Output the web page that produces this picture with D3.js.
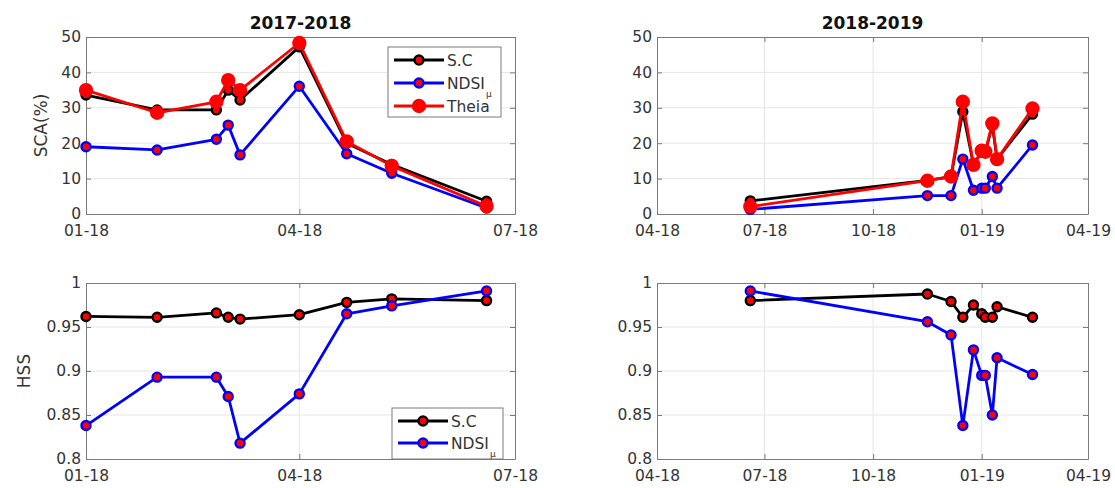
<!DOCTYPE html>
<html>
<head>
<meta charset="utf-8">
<script src="https://cdn.jsdelivr.net/npm/d3@7"></script>
<style>
  body { margin: 0; background: #fff; }
  svg { font-family: "DejaVu Sans", sans-serif; }
</style>
</head>
<body>
<svg id="chart" width="1115" height="488"></svg>
<script>
// ===== DATA =====
const dates1718 = ['2018-01-01', '2018-01-31', '2018-02-25', '2018-03-02', '2018-03-07',
    '2018-04-01', '2018-04-21', '2018-05-10', '2018-06-19'];
const dates1819 = ['2018-06-19', '2018-11-16', '2018-12-06', '2018-12-16', '2018-12-25',
    '2019-01-01', '2019-01-04', '2019-01-10', '2019-01-14', '2019-02-13'];

const sca1718SC    = [33.6, 29.4, 29.4, 35.0, 32.2, 47.2, 20.0, 14.0, 3.6];
const sca1718NDSI  = [19.0, 18.1, 21.1, 25.1, 16.7, 36.1, 17.0, 11.5, 1.7];
const sca1718Theia = [35.0, 28.6, 31.7, 37.8, 35.0, 48.3, 20.5, 13.6, 2.2];

const sca1819SC    = [3.7, 9.5, 10.5, 28.9, 14.0, 17.5, 17.5, 25.0, 15.5, 28.2];
const sca1819NDSI  = [1.3, 5.2, 5.2, 15.5, 6.7, 7.3, 7.3, 10.6, 7.3, 19.5];
const sca1819Theia = [2.1, 9.4, 10.6, 31.7, 13.9, 17.9, 17.6, 25.6, 15.5, 29.8];

const hss1718SC   = [0.962, 0.961, 0.966, 0.961, 0.959, 0.964, 0.978, 0.982, 0.980];
const hss1718NDSI = [0.838, 0.893, 0.893, 0.871, 0.818, 0.874, 0.965, 0.974, 0.991];
const hss1819SC   = [0.980, 0.9875, 0.979, 0.961, 0.975, 0.965, 0.961, 0.961, 0.973, 0.961];
const hss1819NDSI = [0.991, 0.956, 0.941, 0.838, 0.924, 0.895, 0.895, 0.850, 0.915, 0.896];

const xTicks1718 = ['2018-01-01', '2018-04-01', '2018-07-01'];
const xTicks1819 = ['2018-04-01', '2018-07-01', '2018-10-01', '2019-01-01', '2019-04-01'];
const scaTicks = [0, 10, 20, 30, 40, 50];
const hssTicks = [0.8, 0.85, 0.9, 0.95, 1];

// ===== STYLES =====
const styles = {
    sc:    { line: '#000000', mEdge: '#000000', mFill: '#ff0000', r: 4.5 },
    ndsi:  { line: '#0000ff', mEdge: '#0000ff', mFill: '#ff0000', r: 4.5 },
    theia: { line: '#ff0000', mEdge: '#ff0000', mFill: '#ff0000', r: 6 }
};

const parse = d3.timeParse('%Y-%m-%d');
const fmt = d3.timeFormat('%m-%y');
const svg = d3.select('#chart');

function drawPanel(p) {
    const x = d3.scaleTime()
        .domain([parse(p.xTicks[0]), parse(p.xTicks[p.xTicks.length - 1])])
        .range([p.left, p.right]);
    const y = d3.scaleLinear()
        .domain([p.yTicks[0], p.yTicks[p.yTicks.length - 1]])
        .range([p.bottom, p.top]);
    const xt = p.xTicks.map(parse);

    const g = svg.append('g');

    // grid
    g.selectAll('.hg').data(p.yTicks.slice(1, -1)).enter().append('line')
        .attr('x1', p.left).attr('x2', p.right)
        .attr('y1', d => y(d)).attr('y2', d => y(d))
        .attr('stroke', '#e6e6e6').attr('stroke-width', 1);
    g.selectAll('.vg').data(xt.slice(1, -1)).enter().append('line')
        .attr('x1', d => x(d)).attr('x2', d => x(d))
        .attr('y1', p.top).attr('y2', p.bottom)
        .attr('stroke', '#e6e6e6').attr('stroke-width', 1);

    // axes
    const styleAxis = sel => {
        sel.selectAll('.domain').attr('stroke', '#7a7a7a');
        sel.selectAll('.tick line').attr('stroke', '#7a7a7a');
        sel.selectAll('.tick text').attr('fill', '#333').style('font-size', '15.5px')
            .style('font-family', '"DejaVu Sans", sans-serif');
    };
    g.append('g').attr('transform', `translate(0,${p.bottom})`)
        .call(d3.axisBottom(x).tickValues(xt).tickFormat(fmt).tickSizeInner(-5).tickSizeOuter(0).tickPadding(11))
        .call(styleAxis);
    g.append('g').attr('transform', `translate(0,${p.top})`)
        .call(d3.axisTop(x).tickValues(xt).tickFormat('').tickSizeInner(-5).tickSizeOuter(0))
        .call(styleAxis);
    g.append('g').attr('transform', `translate(${p.left},0)`)
        .call(d3.axisLeft(y).tickValues(p.yTicks).tickFormat(d3.format('')).tickSizeInner(-5).tickSizeOuter(0).tickPadding(5))
        .call(styleAxis);
    g.append('g').attr('transform', `translate(${p.right},0)`)
        .call(d3.axisRight(y).tickValues(p.yTicks).tickFormat('').tickSizeInner(-5).tickSizeOuter(0))
        .call(styleAxis);

    // series
    const line = d3.line().x(d => x(d.date)).y(d => y(d.v));
    p.series.forEach(s => {
        const st = styles[s.key];
        const pts = p.dates.map((dt, i) => ({ date: parse(dt), v: s.values[i] }));
        g.append('path').datum(pts)
            .attr('d', line).attr('fill', 'none')
            .attr('stroke', st.line).attr('stroke-width', 2.8)
            .attr('stroke-linejoin', 'round');
        g.selectAll(null).data(pts).enter().append('circle')
            .attr('cx', d => x(d.date)).attr('cy', d => y(d.v))
            .attr('r', st.r).attr('fill', st.mFill)
            .attr('stroke', st.mEdge).attr('stroke-width', 2.4);
    });

    if (p.title) {
        svg.append('text')
            .attr('x', (p.left + p.right) / 2).attr('y', p.top - 8)
            .attr('text-anchor', 'middle')
            .attr('font-size', 17).attr('font-weight', 700).attr('fill', '#111')
            .text(p.title);
    }
    if (p.ylabel) {
        svg.append('text')
            .attr('transform', `translate(${p.ylabelX},${(p.top + p.bottom) / 2}) rotate(-90)`)
            .attr('text-anchor', 'middle').attr('dy', '0.35em')
            .attr('font-size', 17).attr('fill', '#333')
            .text(p.ylabel);
    }
    if (p.legend) drawLegend(p.legend);
}

function drawLegend(lg) {
    const g = svg.append('g');
    g.append('rect')
        .attr('x', lg.x).attr('y', lg.y).attr('width', lg.w).attr('height', lg.h)
        .attr('fill', '#fff').attr('stroke', '#7a7a7a').attr('stroke-width', 1);
    lg.items.forEach((it, i) => {
        const st = styles[it.key];
        const cy = lg.y + lg.first + i * lg.step;
        g.append('line')
            .attr('x1', lg.x + 6).attr('x2', lg.x + 56)
            .attr('y1', cy).attr('y2', cy)
            .attr('stroke', st.line).attr('stroke-width', 2.8);
        g.append('circle')
            .attr('cx', lg.x + 31).attr('cy', cy).attr('r', st.r)
            .attr('fill', st.mFill).attr('stroke', st.mEdge).attr('stroke-width', 2.4);
        const t = g.append('text')
            .attr('x', lg.x + 59).attr('y', cy).attr('dy', '0.36em')
            .attr('font-size', 15.5).attr('fill', '#333');
        t.append('tspan').text(it.label);
        if (it.sub) {
            t.append('tspan').attr('font-size', 9).attr('dy', 8).attr('dx', 1).text(it.sub);
        }
    });
}

const legendItems3 = [
    { key: 'sc', label: 'S.C' },
    { key: 'ndsi', label: 'NDSI', sub: 'μ' },
    { key: 'theia', label: 'Theia' }
];

drawPanel({
    left: 86, right: 515, top: 37, bottom: 214,
    xTicks: xTicks1718, yTicks: scaTicks, dates: dates1718,
    title: '2017-2018', ylabel: 'SCA(%)', ylabelX: 41,
    series: [
        { key: 'sc', values: sca1718SC },
        { key: 'ndsi', values: sca1718NDSI },
        { key: 'theia', values: sca1718Theia }
    ],
    legend: { x: 388, y: 47, w: 113, h: 70, first: 13, step: 23, items: legendItems3 }
});

drawPanel({
    left: 657, right: 1088, top: 37, bottom: 214,
    xTicks: xTicks1819, yTicks: scaTicks, dates: dates1819,
    title: '2018-2019',
    series: [
        { key: 'sc', values: sca1819SC },
        { key: 'ndsi', values: sca1819NDSI },
        { key: 'theia', values: sca1819Theia }
    ]
});

drawPanel({
    left: 86, right: 515, top: 283, bottom: 459,
    xTicks: xTicks1718, yTicks: hssTicks, dates: dates1718,
    ylabel: 'HSS', ylabelX: 24,
    series: [
        { key: 'sc', values: hss1718SC },
        { key: 'ndsi', values: hss1718NDSI }
    ],
    legend: { x: 392, y: 408, w: 111, h: 51, first: 13, step: 22, items: legendItems3.slice(0, 2) }
});

drawPanel({
    left: 657, right: 1088, top: 283, bottom: 459,
    xTicks: xTicks1819, yTicks: hssTicks, dates: dates1819,
    series: [
        { key: 'sc', values: hss1819SC },
        { key: 'ndsi', values: hss1819NDSI }
    ]
});
</script>
</body>
</html>
